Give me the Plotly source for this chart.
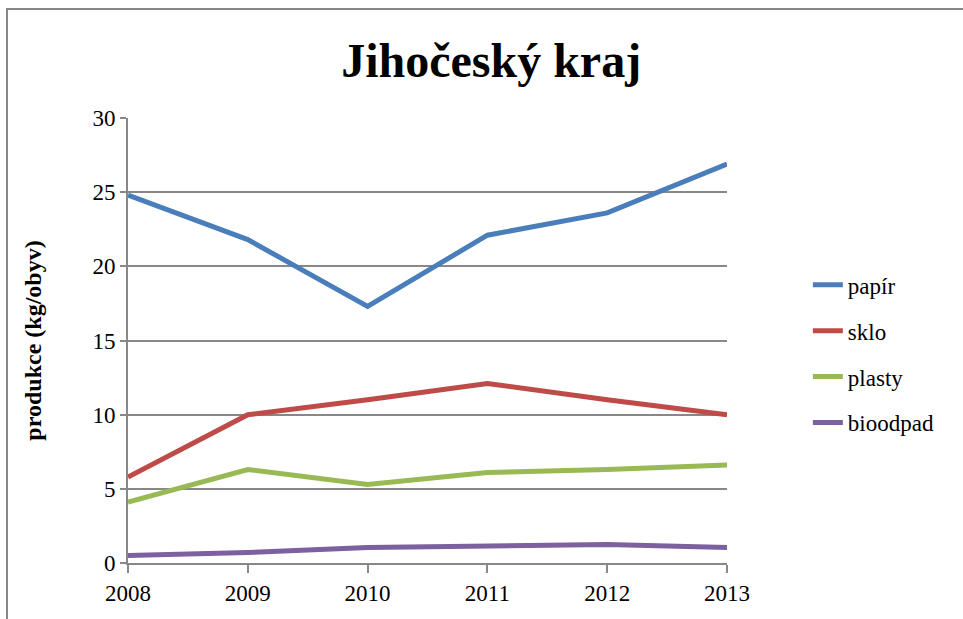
import plotly.graph_objects as go

roky = [2008, 2009, 2010, 2011, 2012, 2013]
papir = [24.8, 21.8, 17.3, 22.1, 23.6, 26.9]
sklo = [5.8, 10.0, 11.0, 12.1, 11.0, 10.0]
plasty = [4.1, 6.3, 5.3, 6.1, 6.3, 6.6]
bioodpad = [0.5, 0.7, 1.05, 1.15, 1.25, 1.05]

nazvy = ["papír", "sklo", "plasty", "bioodpad"]
barvy = ["#4A7EBB", "#BE4B48", "#98B954", "#7D60A0"]
serie = [papir, sklo, plasty, bioodpad]

pismo = "Liberation Serif"
seda = "#888888"

fig = go.Figure()
for nazev, hodnoty, barva in zip(nazvy, serie, barvy):
    fig.add_trace(go.Scatter(x=roky, y=hodnoty, mode="lines", name=nazev,
                             legendgroup=nazev,
                             line=dict(color=barva, width=5)))

fig.update_layout(
    width=963, height=619,
    margin=dict(l=128, r=236, t=118, b=56),
    paper_bgcolor="white", plot_bgcolor="white",
    font=dict(family=pismo, color="black", size=23),
    title=dict(text="<b>Jihočeský kraj</b>", x=0.51, xanchor="center",
               y=0.903, yanchor="middle",
               font=dict(family=pismo, size=48, color="black")),
    legend=dict(x=1.135, xanchor="left", y=0.47, yanchor="middle",
                tracegroupgap=13, font=dict(family=pismo, size=23, color="black")),
    showlegend=True,
)
fig.update_xaxes(range=[2008, 2013], tickvals=roky, ticktext=[str(r) for r in roky],
                 showgrid=False, showline=True, linecolor=seda, linewidth=2,
                 ticks="outside", ticklen=8, tickcolor=seda, tickwidth=2,
                 zeroline=False, tickfont=dict(family=pismo, size=23, color="black"))
fig.update_yaxes(range=[0, 30], dtick=5, showgrid=True, gridcolor=seda, gridwidth=2,
                 showline=True, linecolor=seda, linewidth=2,
                 ticks="outside", ticklen=6, tickcolor=seda, tickwidth=2,
                 zeroline=False, tickfont=dict(family=pismo, size=23, color="black"),
                 title=dict(text="<b>produkce (kg/obyv)</b>",
                            font=dict(family=pismo, size=24, color="black"), standoff=44))

# obrys oblasti grafu
fig.add_shape(type="rect", xref="paper", yref="paper",
              x0=-0.202, x1=1.6, y0=-0.3, y1=1.245,
              line=dict(color=seda, width=2), layer="below")

fig.write_html("out.html", config={"displayModeBar": False},
               post_script="document.body.style.margin='0px';")
